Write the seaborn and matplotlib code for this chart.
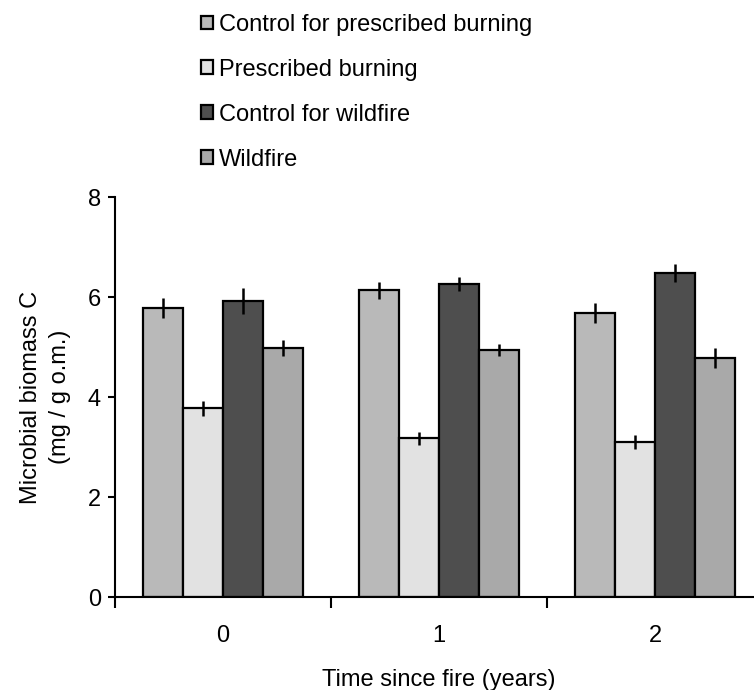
import pandas as pd
import matplotlib.pyplot as plt
import seaborn as sns
import numpy as np

# ------------------- DATOS -------------------
years = ['0', '1', '2']
treatments = ['Control for prescribed burning', 'Prescribed burning',
              'Control for wildfire', 'Wildfire']

ctrl_prescribed = [5.78, 6.14, 5.68]
prescribed = [3.78, 3.18, 3.10]
ctrl_wildfire = [5.92, 6.26, 6.48]
wildfire = [4.98, 4.94, 4.78]

err_ctrl_prescribed = [0.20, 0.17, 0.20]
err_prescribed = [0.15, 0.13, 0.14]
err_ctrl_wildfire = [0.26, 0.14, 0.18]
err_wildfire = [0.16, 0.12, 0.20]

colors = ['#b9b9b9', '#e2e2e2', '#4e4e4e', '#a9a9a9']

values = [ctrl_prescribed, prescribed, ctrl_wildfire, wildfire]
errors = [err_ctrl_prescribed, err_prescribed, err_ctrl_wildfire, err_wildfire]

df = pd.DataFrame({
    'year': years * 4,
    'treatment': np.repeat(treatments, 3),
    'value': sum(values, []),
    'err': sum(errors, []),
})

sns.set_style('ticks')
plt.rcParams['font.family'] = ['Liberation Sans', 'DejaVu Sans']
plt.rcParams['text.color'] = 'black'
plt.rcParams['axes.labelcolor'] = 'black'
plt.rcParams['xtick.color'] = 'black'
plt.rcParams['ytick.color'] = 'black'
plt.rcParams['axes.edgecolor'] = 'black'

fig = plt.figure(figsize=(7.54, 6.9), dpi=100)
ax = fig.add_axes([115 / 754, 1 - 597 / 690, 648 / 754, 400 / 690])

sns.barplot(data=df, x='year', y='value', hue='treatment', hue_order=treatments,
            order=years, palette=colors, width=0.74, edgecolor='black',
            linewidth=1.6, errorbar=None, saturation=1, ax=ax)

# barras de error (solo en vertical, sin capuchones)
for container, errs in zip(ax.containers, errors):
    for bar, e in zip(container, errs):
        xc = bar.get_x() + bar.get_width() / 2
        ax.errorbar(xc, bar.get_height(), yerr=e, color='black',
                    elinewidth=1.8, capsize=0, zorder=5)

ax.set_xlim(-0.5, 2.5)
ax.set_ylim(0, 8)
ax.set_yticks([0, 2, 4, 6, 8])
ax.set_xticks([-0.5, 0.5, 1.5], minor=True)
ax.tick_params(axis='x', which='major', length=0, pad=20, labelsize=17)
ax.tick_params(axis='x', which='minor', length=8, width=1.5, direction='out')
ax.tick_params(axis='y', length=5, width=1.5, pad=5, labelsize=17)
for s in ['top', 'right']:
    ax.spines[s].set_visible(False)
ax.spines['left'].set_linewidth(1.5)
ax.spines['bottom'].set_linewidth(1.5)

ax.set_xlabel('Time since fire (years)', fontsize=17, labelpad=16)
ax.set_ylabel('Microbial biomass C\n(mg / g o.m.)', fontsize=17, labelpad=12,
              linespacing=1.4)

handles, labels = ax.get_legend_handles_labels()
ax.get_legend().remove()
fig.legend(handles, labels, loc='upper left', bbox_to_anchor=(189 / 754, 1 - 2 / 690),
           frameon=False, fontsize=17, borderpad=0, labelspacing=0.97,
           handlelength=0.52, handleheight=0.52, handletextpad=0.25)

plt.savefig('out.png', dpi=100)
